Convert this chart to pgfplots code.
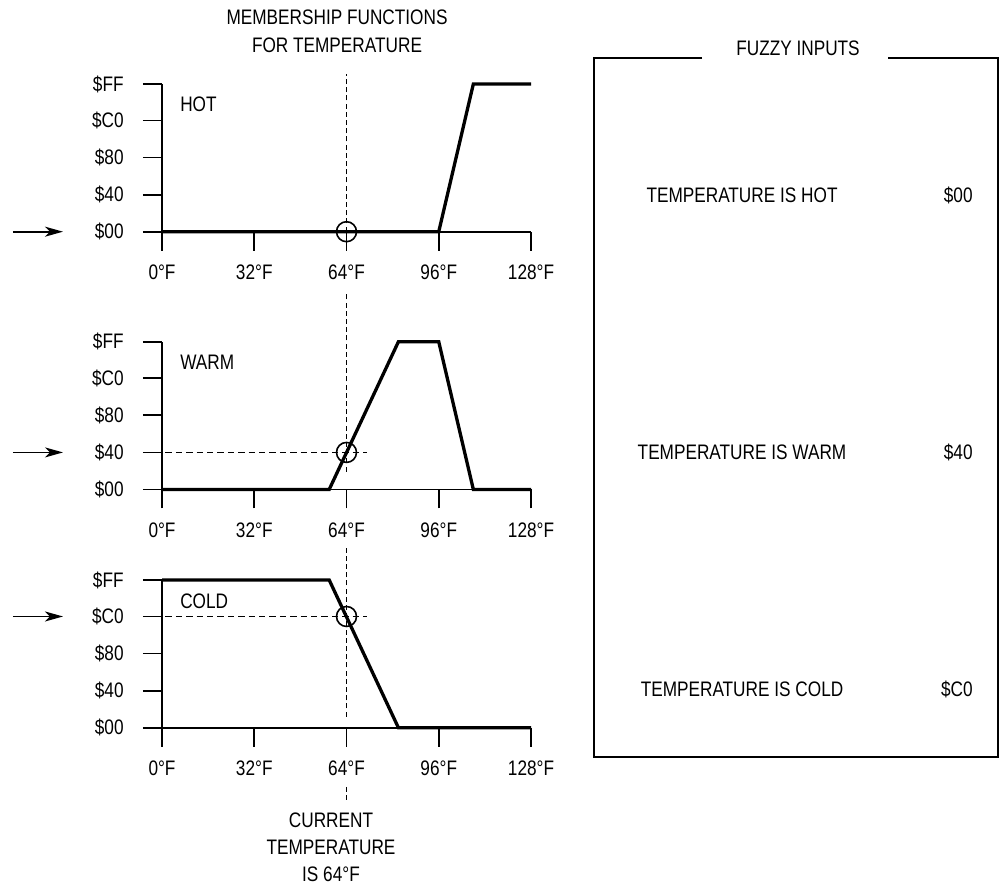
\documentclass[border=0pt]{standalone}
\usepackage{fontspec}
\setmainfont[FakeStretch=0.82]{Liberation Sans}
\usepackage{pgfplots}
\pgfplotsset{compat=1.18}
\usetikzlibrary{arrows.meta}
\pgfplotsset{
  mf/.style={
    scale only axis, width=184.5pt, height=73.85pt,
    xmin=0, xmax=128, ymin=0, ymax=255,
    axis x line=bottom, axis y line=left,
    axis line style={-, line width=0.9pt},
    xtick={0,32,64,96,128},
    xticklabels={0°F,32°F,64°F,96°F,128°F},
    ytick={0,64,128,192,255},
    yticklabels={\$00,\$40,\$80,\$C0,\$FF},
    tick align=outside, major tick length=9.5pt,
    tick style={black, line width=0.9pt},
    yticklabel style={xshift=-6pt},
    xticklabel style={yshift=-3.5pt},
    clip=false, anchor=south west,
  },
}
\tikzset{
  pl/.style={black, line width=1.65pt, mark=none, line join=miter},
  dsh/.style={line width=0.75pt, dash pattern=on 2.5pt off 1.6pt},
  hdsh/.style={line width=0.75pt, dash pattern=on 3.2pt off 2pt},
  fz/.style={-{Stealth[length=9pt,width=5pt,inset=2.5pt]}, line width=0.9pt},
}
\begin{document}
\fontsize{10.5}{12.6}\selectfont
\begin{tikzpicture}[x=0.5pt,y=0.5pt]
\path[use as bounding box] (0,0) rectangle (999,886);

% title
\node[anchor=base] at (337,861) {MEMBERSHIP FUNCTIONS};
\node[anchor=base] at (337,833) {FOR TEMPERATURE};

% HOT
\begin{axis}[mf, at={(81pt,327.15pt)}]
\addplot[pl] coordinates {(0,0) (96,0) (108,255) (128,255)};
\node[anchor=west, inner sep=0pt] at (axis cs:6.2,220) {HOT};
\draw[dsh] (axis cs:64,0) -- ([yshift=5pt]axis cs:64,255);
\draw[line width=0.8pt] (axis cs:64,0) circle[radius=5pt];
\draw[fz] ([xshift=-74.5pt]axis cs:0,0) -- ([xshift=-49.5pt]axis cs:0,0);
\end{axis}

% WARM
\begin{axis}[mf, at={(81pt,198.25pt)}]
\addplot[pl] coordinates {(0,0) (58,0) (82,255) (96,255) (108,0) (128,0)};
\node[anchor=west, inner sep=0pt] at (axis cs:6.2,220) {WARM};
\draw[dsh] (axis cs:64,31) -- ([yshift=25pt]axis cs:64,255);
\draw[hdsh] (axis cs:1.2,64) -- (axis cs:71,64);
\draw[line width=0.8pt] (axis cs:64,64) circle[radius=5pt];
\draw[fz] ([xshift=-74.5pt]axis cs:0,64) -- ([xshift=-49.5pt]axis cs:0,64);
\end{axis}

% COLD
\begin{axis}[mf, at={(81pt,79.15pt)}]
\addplot[pl] coordinates {(0,255) (58,255) (82,0) (128,0)};
\node[anchor=west, inner sep=0pt] at (axis cs:6.2,219) {COLD};
\draw[dsh] (axis cs:64,19) -- ([yshift=16pt]axis cs:64,255);
\draw[dsh] ([yshift=-29.6pt]axis cs:64,0) -- ([yshift=-37.2pt]axis cs:64,0);
\draw[hdsh] (axis cs:1.2,192) -- (axis cs:71,192);
\draw[line width=0.8pt] (axis cs:64,192) circle[radius=5pt];
\draw[fz] ([xshift=-74.5pt]axis cs:0,192) -- ([xshift=-49.5pt]axis cs:0,192);
\end{axis}

% bottom caption
\node[anchor=base] at (331,58) {CURRENT};
\node[anchor=base] at (331,31) {TEMPERATURE};
\node[anchor=base] at (331,4) {IS 64°F};

% fuzzy inputs box
\draw[line width=1pt] (702,827.7) -- (594,827.7) -- (594,128.5) -- (998,128.5) -- (998,827.7) -- (888,827.7);
\node[anchor=base] at (798,830) {FUZZY INPUTS};
\node[anchor=base] at (742,683) {TEMPERATURE IS HOT};
\node[anchor=base east] at (980,683) {\$00};
\node[anchor=base] at (742,426.5) {TEMPERATURE IS WARM};
\node[anchor=base east] at (980,426.5) {\$40};
\node[anchor=base] at (742,189.3) {TEMPERATURE IS COLD};
\node[anchor=base east] at (980,189.3) {\$C0};
\end{tikzpicture}
\end{document}
